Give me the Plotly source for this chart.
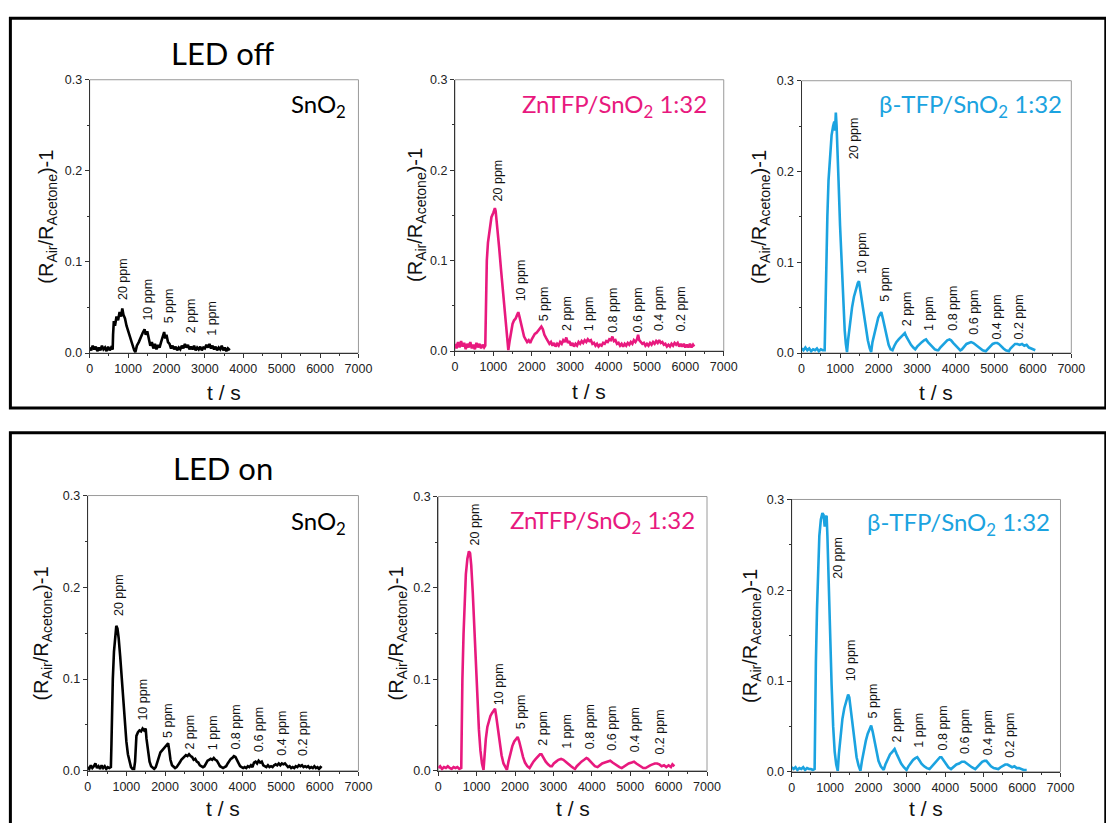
import plotly.graph_objects as go

W, H = 1106, 823

# ---------------- data ----------------
t_off_sno2 = [0,40,80,120,160,200,240,280,320,360,400,440,480,520,560,600,610,630,660,700,740,780,820,850,880,920,960,1000,1040,1080,1120,1160,1190,1230,1280,1330,1380,1430,1460,1500,1540,1580,1620,1660,1700,1740,1780,1820,1860,1900,1940,1970,2000,2040,2080,2120,2160,2200,2240,2280,2320,2360,2400,2440,2480,2520,2560,2600,2640,2680,2720,2760,2800,2840,2880,2920,2960,3000,3040,3080,3120,3160,3200,3240,3280,3320,3360,3400,3440,3480,3520,3560,3600,3650]
y_off_sno2 = [0.006,0.003,0.008,0.004,0.007,0.002,0.006,0.003,0.008,0.004,0.006,0.002,0.007,0.003,0.006,0.004,0.020,0.035,0.030,0.040,0.036,0.045,0.040,0.049,0.042,0.038,0.030,0.024,0.018,0.012,0.008,0.003,0.001,0.008,0.012,0.018,0.022,0.026,0.020,0.024,0.015,0.008,0.012,0.005,0.010,0.004,0.009,0.006,0.012,0.018,0.023,0.016,0.020,0.012,0.010,0.005,0.008,0.004,0.007,0.003,0.006,0.004,0.008,0.005,0.010,0.006,0.009,0.004,0.007,0.004,0.008,0.003,0.006,0.004,0.007,0.003,0.006,0.005,0.009,0.006,0.010,0.005,0.008,0.004,0.007,0.003,0.006,0.004,0.008,0.003,0.006,0.002,0.005,0.003]

t_off_zn = [0,40,80,120,160,200,240,280,320,360,400,440,480,520,560,600,640,680,720,760,790,800,810,830,860,900,950,1000,1040,1060,1100,1150,1200,1250,1300,1350,1390,1420,1460,1500,1540,1580,1620,1650,1680,1720,1760,1800,1840,1880,1920,1960,2000,2040,2080,2120,2160,2200,2250,2290,2330,2380,2420,2460,2500,2540,2580,2620,2660,2700,2740,2780,2820,2860,2900,2940,2980,3020,3060,3100,3140,3180,3220,3260,3300,3340,3380,3420,3460,3500,3540,3580,3620,3660,3700,3740,3780,3820,3860,3900,3940,3980,4020,4060,4100,4140,4180,4220,4260,4300,4340,4380,4420,4460,4500,4540,4580,4620,4660,4700,4740,4770,4800,4840,4880,4920,4960,5000,5040,5080,5120,5160,5200,5240,5280,5320,5360,5400,5440,5480,5520,5560,5600,5640,5680,5720,5760,5800,5840,5880,5920,5960,6000,6040,6080,6120,6160,6200,6230]
y_off_zn = [0.008,0.003,0.010,0.004,0.011,0.005,0.009,0.002,0.008,0.004,0.010,0.003,0.007,0.002,0.009,0.004,0.008,0.003,0.007,0.004,0.006,0.040,0.080,0.100,0.120,0.135,0.148,0.153,0.158,0.155,0.140,0.115,0.090,0.065,0.040,0.018,0.001,0.010,0.022,0.030,0.034,0.036,0.040,0.043,0.038,0.030,0.022,0.016,0.013,0.010,0.012,0.009,0.013,0.016,0.019,0.020,0.022,0.025,0.027,0.024,0.018,0.014,0.011,0.008,0.010,0.006,0.009,0.005,0.008,0.006,0.010,0.008,0.012,0.010,0.015,0.009,0.011,0.006,0.009,0.005,0.008,0.006,0.010,0.008,0.011,0.009,0.012,0.010,0.013,0.011,0.012,0.008,0.009,0.006,0.008,0.005,0.007,0.006,0.009,0.008,0.011,0.010,0.013,0.012,0.016,0.011,0.012,0.008,0.009,0.006,0.008,0.005,0.008,0.006,0.009,0.007,0.010,0.008,0.012,0.010,0.013,0.018,0.012,0.010,0.008,0.009,0.006,0.008,0.006,0.009,0.007,0.010,0.008,0.011,0.009,0.012,0.009,0.010,0.007,0.008,0.005,0.007,0.005,0.008,0.006,0.009,0.007,0.009,0.005,0.008,0.005,0.008,0.004,0.007,0.004,0.008,0.004,0.007,0.005]

t_off_b = [0,50,100,150,200,250,300,350,400,450,500,550,600,615,640,670,700,740,780,820,850,870,890,910,930,960,1000,1040,1080,1120,1150,1180,1210,1260,1310,1360,1410,1460,1490,1520,1570,1620,1670,1720,1770,1806,1840,1890,1940,1990,2040,2070,2110,2160,2210,2260,2310,2360,2410,2460,2520,2580,2640,2680,2720,2780,2840,2900,2950,3000,3060,3120,3180,3230,3280,3340,3400,3460,3520,3550,3600,3660,3720,3780,3840,3880,3940,4000,4060,4120,4160,4220,4280,4340,4400,4460,4520,4580,4640,4700,4780,4840,4900,4960,5020,5080,5120,5180,5240,5300,5380,5420,5480,5540,5600,5660,5720,5780,5840,5900,5960,6020,6065]
y_off_b = [0.005,0.003,0.006,0.003,0.005,0.002,0.004,0.003,0.005,0.002,0.004,0.003,0.003,0.040,0.100,0.150,0.190,0.220,0.240,0.250,0.255,0.245,0.265,0.250,0.230,0.190,0.140,0.095,0.055,0.025,0.010,0.001,0.015,0.035,0.050,0.062,0.070,0.077,0.079,0.070,0.055,0.040,0.026,0.014,0.005,0.001,0.012,0.022,0.032,0.039,0.043,0.045,0.038,0.027,0.017,0.009,0.004,0.003,0.008,0.012,0.015,0.018,0.020,0.022,0.018,0.013,0.009,0.006,0.004,0.007,0.010,0.012,0.014,0.015,0.012,0.009,0.006,0.004,0.003,0.003,0.006,0.009,0.012,0.014,0.015,0.014,0.011,0.008,0.005,0.003,0.004,0.007,0.010,0.011,0.012,0.011,0.009,0.007,0.005,0.003,0.002,0.005,0.008,0.010,0.011,0.011,0.010,0.007,0.005,0.003,0.002,0.005,0.008,0.010,0.010,0.009,0.010,0.008,0.009,0.006,0.005,0.004,0.003]

t_on_sno2 = [0,40,80,120,160,200,240,280,320,360,400,440,480,520,560,600,615,630,650,680,710,740,770,800,840,880,920,960,1000,1040,1080,1120,1160,1200,1225,1240,1260,1300,1340,1380,1420,1460,1500,1520,1560,1600,1640,1680,1720,1760,1800,1840,1880,1920,1960,2000,2040,2080,2110,2140,2180,2220,2260,2300,2340,2380,2420,2460,2500,2540,2580,2620,2660,2700,2740,2780,2820,2860,2900,2940,2980,3020,3060,3100,3140,3180,3220,3260,3300,3340,3380,3420,3460,3500,3540,3580,3620,3660,3700,3740,3780,3820,3860,3900,3940,3980,4020,4060,4100,4140,4180,4220,4260,4300,4340,4380,4420,4460,4500,4540,4580,4620,4660,4700,4740,4780,4820,4860,4900,4940,4980,5020,5060,5100,5140,5180,5220,5260,5300,5340,5380,5420,5460,5500,5540,5580,5620,5660,5700,5740,5780,5820,5860,5900,5940,5980,6020,6050]
y_on_sno2 = [0.004,0.002,0.006,0.003,0.005,0.008,0.003,0.005,0.002,0.006,0.003,0.005,0.002,0.004,0.003,0.004,0.030,0.070,0.100,0.130,0.150,0.158,0.155,0.145,0.125,0.100,0.075,0.052,0.032,0.018,0.009,0.004,0.002,0.002,0.010,0.030,0.038,0.042,0.044,0.043,0.046,0.044,0.046,0.035,0.020,0.010,0.005,0.003,0.002,0.004,0.010,0.016,0.020,0.022,0.024,0.026,0.028,0.030,0.022,0.012,0.006,0.004,0.003,0.004,0.006,0.009,0.012,0.014,0.015,0.017,0.016,0.018,0.016,0.015,0.012,0.013,0.010,0.009,0.006,0.005,0.004,0.005,0.008,0.011,0.012,0.013,0.012,0.014,0.012,0.011,0.008,0.005,0.004,0.003,0.004,0.005,0.008,0.011,0.013,0.014,0.016,0.015,0.012,0.008,0.005,0.004,0.003,0.004,0.003,0.005,0.004,0.006,0.004,0.009,0.010,0.008,0.011,0.009,0.010,0.006,0.005,0.004,0.006,0.004,0.005,0.004,0.006,0.007,0.006,0.008,0.006,0.008,0.007,0.008,0.006,0.004,0.005,0.003,0.004,0.003,0.005,0.004,0.006,0.005,0.006,0.004,0.005,0.004,0.005,0.003,0.004,0.003,0.005,0.003,0.004,0.002,0.004,0.003]

t_on_zn = [0,50,100,150,200,250,300,350,400,450,500,550,600,612,630,660,690,720,760,800,830,860,900,940,980,1020,1060,1100,1140,1180,1210,1240,1280,1320,1360,1400,1440,1480,1510,1550,1600,1650,1700,1750,1790,1830,1880,1930,1980,2030,2070,2110,2160,2210,2260,2320,2380,2420,2480,2540,2600,2650,2690,2740,2800,2860,2920,2960,3010,3070,3130,3200,3260,3320,3390,3460,3520,3560,3610,3670,3730,3800,3860,3900,3960,4020,4080,4150,4210,4270,4340,4420,4480,4540,4600,4660,4720,4780,4840,4900,4960,5040,5100,5160,5220,5280,5340,5400,5460,5520,5580,5640,5700,5760,5820,5880,5940,6000,6060,6100,6150]
y_on_zn = [0.003,0.005,0.002,0.004,0.003,0.005,0.003,0.002,0.004,0.003,0.004,0.002,0.003,0.050,0.100,0.150,0.190,0.215,0.232,0.240,0.238,0.225,0.195,0.155,0.115,0.078,0.045,0.022,0.008,0.001,0.020,0.035,0.048,0.056,0.060,0.063,0.066,0.068,0.060,0.046,0.030,0.017,0.008,0.003,0.001,0.010,0.020,0.027,0.032,0.035,0.037,0.032,0.023,0.015,0.009,0.005,0.003,0.006,0.010,0.013,0.016,0.018,0.018,0.014,0.010,0.007,0.005,0.005,0.008,0.010,0.012,0.013,0.012,0.010,0.007,0.005,0.003,0.002,0.005,0.008,0.010,0.012,0.014,0.013,0.010,0.007,0.005,0.004,0.006,0.008,0.009,0.010,0.011,0.009,0.007,0.005,0.004,0.003,0.005,0.007,0.008,0.009,0.010,0.008,0.006,0.004,0.003,0.003,0.005,0.006,0.007,0.008,0.008,0.007,0.005,0.006,0.004,0.006,0.004,0.007,0.005]

t_on_b = [0,50,100,150,200,250,300,350,400,450,500,550,597,610,630,660,690,720,760,800,830,860,880,910,930,960,1000,1040,1080,1120,1160,1200,1230,1270,1320,1370,1420,1470,1500,1540,1590,1640,1690,1740,1790,1830,1880,1930,1980,2030,2070,2110,2160,2210,2260,2320,2396,2440,2500,2560,2620,2680,2730,2790,2850,2920,2990,3040,3100,3160,3220,3270,3320,3380,3450,3520,3590,3650,3720,3790,3860,3900,3960,4020,4080,4150,4220,4290,4360,4430,4500,4560,4620,4690,4780,4840,4900,4960,5020,5070,5130,5190,5260,5330,5380,5440,5500,5560,5620,5680,5740,5800,5860,5920,5980,6040,6120]
y_on_b = [0.005,0.003,0.005,0.002,0.004,0.003,0.005,0.002,0.004,0.003,0.003,0.002,0.003,0.060,0.120,0.180,0.230,0.260,0.278,0.285,0.283,0.270,0.280,0.282,0.260,0.210,0.150,0.095,0.050,0.022,0.008,0.001,0.020,0.040,0.058,0.070,0.078,0.085,0.082,0.068,0.048,0.030,0.016,0.007,0.001,0.012,0.024,0.034,0.042,0.048,0.051,0.044,0.032,0.021,0.012,0.006,0.002,0.008,0.014,0.019,0.022,0.025,0.020,0.014,0.009,0.005,0.002,0.006,0.010,0.013,0.015,0.016,0.013,0.009,0.006,0.004,0.003,0.006,0.010,0.013,0.016,0.016,0.012,0.008,0.005,0.003,0.006,0.008,0.009,0.011,0.011,0.009,0.007,0.005,0.003,0.006,0.009,0.011,0.012,0.012,0.009,0.006,0.004,0.003,0.003,0.005,0.007,0.008,0.008,0.006,0.005,0.006,0.004,0.004,0.003,0.002,0.002]

# ppm labels: text, x position (s), y of label base
lab_off_sno2 = ["20 ppm", "10 ppm", "5 ppm", "2 ppm", "1 ppm"]
lx_off_sno2 = [870, 1510, 2070, 2640, 3180]
ly_off_sno2 = [0.056, 0.033, 0.030, 0.019, 0.017]

lab_full = ["20 ppm", "10 ppm", "5 ppm", "2 ppm", "1 ppm", "0.8 ppm", "0.6 ppm", "0.4 ppm", "0.2 ppm"]
lx_off_zn = [1115, 1714, 2314, 2930, 3513, 4130, 4773, 5330, 5888]
ly_off_zn = [0.163, 0.0525, 0.031, 0.020, 0.020, 0.018, 0.018, 0.020, 0.019]
lx_off_b = [1354, 1575, 2146, 2743, 3296, 3910, 4489, 5068, 5638]
ly_off_b = [0.211, 0.085, 0.054, 0.027, 0.022, 0.022, 0.018, 0.013, 0.013]
lx_on_sno2 = [824, 1444, 2073, 2634, 3245, 3823, 4435, 5030, 5582]
ly_on_sno2 = [0.166, 0.052, 0.034, 0.021, 0.020, 0.021, 0.018, 0.014, 0.014]
lx_on_zn = [950, 1566, 2164, 2737, 3336, 3944, 4517, 5133, 5774]
ly_on_zn = [0.244, 0.070, 0.043, 0.025, 0.0216, 0.0216, 0.020, 0.018, 0.016]
lx_on_b = [1219, 1535, 2114, 2754, 3308, 3947, 4518, 5098, 5695]
ly_on_b = [0.211, 0.097, 0.057, 0.030, 0.0246, 0.021, 0.017, 0.016, 0.013]

y_ticks = [0.0, 0.1, 0.2, 0.3]
y_tick_text = ["0.0", "0.1", "0.2", "0.3"]
x_ticks = [0, 1000, 2000, 3000, 4000, 5000, 6000, 7000]

# ---------------- styling ----------------
BLACK = "#000000"
PINK = "#E8197E"
BLUE = "#1BA3E0"

panels = [
    (t_off_sno2, y_off_sno2, BLACK, "SnO<sub>2</sub>", lab_off_sno2, lx_off_sno2, ly_off_sno2, (88, 361, 74, 352)),
    (t_off_zn, y_off_zn, PINK, "ZnTFP/SnO<sub>2</sub> 1:32", lab_full, lx_off_zn, ly_off_zn, (459, 732, 74, 350)),
    (t_off_b, y_off_b, BLUE, "β-TFP/SnO<sub>2</sub> 1:32", lab_full, lx_off_b, ly_off_b, (811, 1085, 75, 352)),
    (t_on_sno2, y_on_sno2, BLACK, "SnO<sub>2</sub>", lab_full, lx_on_sno2, ly_on_sno2, (86, 361, 497, 777)),
    (t_on_zn, y_on_zn, PINK, "ZnTFP/SnO<sub>2</sub> 1:32", lab_full, lx_on_zn, ly_on_zn, (442, 715, 498, 777)),
    (t_on_b, y_on_b, BLUE, "β-TFP/SnO<sub>2</sub> 1:32", lab_full, lx_on_b, ly_on_b, (801, 1074, 501, 778)),
]
title_left_px = [290, 525, 888, 290, 513, 875]
title_y_px = [100, 100, 100, 524, 523, 525]
ytitle_x_px = [45, 420, 770, 40, 401, 760]
xtitle_y_px = [392, 391, 392, 815, 815, 815]

TICKFONT = dict(family="Liberation Sans, Arial", size=12.5, color="#222222")
SANS2 = "Lato, Open Sans, sans-serif"

def px2x(p):
    return p / W

def px2y(p):
    return 1 - p / H

fig = go.Figure()
layout = dict(
    width=W, height=H, margin=dict(l=0, r=0, t=0, b=0),
    paper_bgcolor="white", plot_bgcolor="white", showlegend=False,
)
annotations = []
shapes = []

for i, (t, y, col, title, labs, lx, ly, box) in enumerate(panels):
    n = "" if i == 0 else str(i + 1)
    x0, x1, y0, y1 = box
    fig.add_trace(go.Scatter(x=t, y=y, mode="lines", line=dict(color=col, width=2.6),
                             xaxis="x" + n, yaxis="y" + n, hoverinfo="skip"))
    layout["xaxis" + n] = dict(
        domain=[px2x(x0), px2x(x1)], anchor="y" + n, range=[0, 7000],
        tickmode="array", tickvals=x_ticks, ticks="outside", ticklen=4, tickwidth=1,
        tickcolor="#333", showline=True, linecolor="#333", linewidth=1,
        showgrid=False, zeroline=False, tickfont=TICKFONT,
        minor=dict(dtick=500, ticks="outside", ticklen=2, tickcolor="#333", showgrid=False),
        fixedrange=True,
    )
    layout["yaxis" + n] = dict(
        domain=[px2y(y1), px2y(y0)], anchor="x" + n, range=[0, 0.3],
        tickmode="array", tickvals=y_ticks, ticktext=y_tick_text, ticks="outside", ticklen=4,
        tickwidth=1, tickcolor="#333", showline=True, linecolor="#333", linewidth=1,
        showgrid=False, zeroline=False, tickfont=TICKFONT,
        minor=dict(dtick=0.05, ticks="outside", ticklen=2, tickcolor="#333", showgrid=False),
        fixedrange=True,
    )
    shapes.append(dict(type="rect", xref="x" + n + " domain", yref="y" + n + " domain",
                       x0=0, x1=1, y0=0, y1=1, line=dict(color="#9a9a9a", width=1), layer="below"))
    annotations.append(dict(text=title, x=px2x(title_left_px[i]), y=px2y(title_y_px[i]),
                            xref="paper", yref="paper", xanchor="left", yanchor="middle",
                            showarrow=False, font=dict(family=SANS2, size=24, color=col)))
    for s, xv, yv in zip(labs, lx, ly):
        annotations.append(dict(text=s, x=xv, y=yv, xref="x" + n, yref="y" + n,
                                xanchor="center", yanchor="bottom", textangle=-90,
                                showarrow=False,
                                font=dict(family="Liberation Sans, Arial", size=12.5, color="#111")))
    annotations.append(dict(text="(R<sub>Air</sub>/R<sub>Acetone</sub>)-1",
                            x=px2x(ytitle_x_px[i]), y=px2y((y0 + y1) / 2), xref="paper", yref="paper",
                            xanchor="center", yanchor="middle", textangle=-90, showarrow=False,
                            font=dict(family="Liberation Sans, Arial", size=20, color="#111")))
    annotations.append(dict(text="t / s", x=px2x((x0 + x1) / 2), y=px2y(xtitle_y_px[i]),
                            xref="paper", yref="paper", xanchor="center", yanchor="middle",
                            showarrow=False,
                            font=dict(family="Liberation Sans, Arial", size=21, color="#111")))

annotations.append(dict(text="LED off", x=px2x(223), y=px2y(47), xref="paper", yref="paper",
                        xanchor="center", yanchor="middle", showarrow=False,
                        font=dict(family=SANS2, size=31, color="#000")))
annotations.append(dict(text="LED on", x=px2x(223), y=px2y(469), xref="paper", yref="paper",
                        xanchor="center", yanchor="middle", showarrow=False,
                        font=dict(family=SANS2, size=31, color="#000")))

shapes.append(dict(type="rect", xref="paper", yref="paper", x0=px2x(7.5), x1=px2x(1120),
                   y0=px2y(408), y1=px2y(11.5), line=dict(color="#000", width=3)))
shapes.append(dict(type="rect", xref="paper", yref="paper", x0=px2x(7.5), x1=px2x(1120),
                   y0=px2y(840), y1=px2y(433), line=dict(color="#000", width=3)))

layout["annotations"] = annotations
layout["shapes"] = shapes
fig.update_layout(**layout)
fig.write_html("out.html")
